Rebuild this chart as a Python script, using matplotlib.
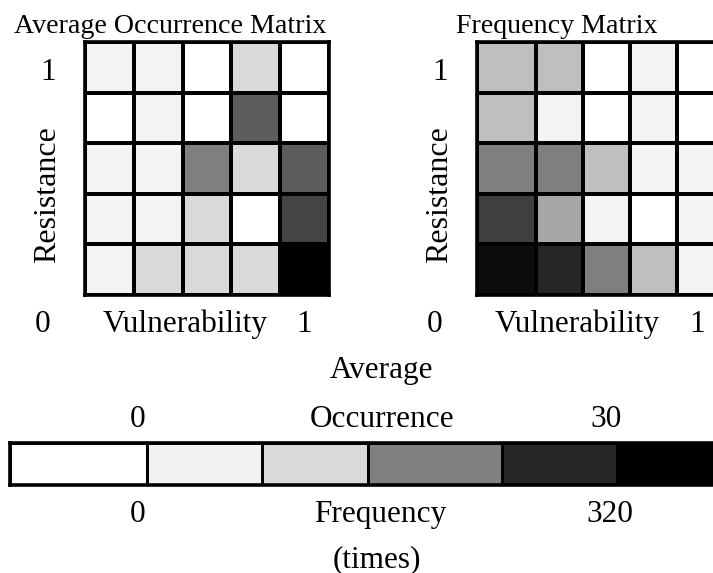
import numpy as np
import matplotlib
matplotlib.use("Agg")
import matplotlib.pyplot as plt
from matplotlib.colors import ListedColormap

# ---- data (rows listed top -> bottom, columns left -> right) ----
avg_occurrence = [
    [1.5, 1.5, 0.0, 4.5, 0.0],
    [0.0, 1.5, 0.0, 19.0, 0.0],
    [1.5, 1.5, 15.0, 4.5, 19.0],
    [1.5, 1.5, 4.5, 0.0, 22.0],
    [1.5, 4.5, 4.5, 4.5, 30.0],
]
frequency = [
    [80, 80, 0, 16, 0],
    [80, 16, 0, 16, 0],
    [160, 160, 80, 16, 16],
    [240, 112, 16, 0, 16],
    [304, 272, 160, 80, 16],
]
occ_range = [0, 30]
freq_range = [0, 320]
legend_grays = [1.0, 0.95, 0.85, 0.5, 0.15, 0.0]

W, H = 713, 573
plt.rcParams['font.family'] = ['Liberation Serif', 'DejaVu Serif']

fig = plt.figure(figsize=(W / 100, H / 100), dpi=100)


def px_axes(x0, y0, x1, y1):
    # axes from pixel box (origin top-left)
    return fig.add_axes([x0 / W, 1 - y1 / H, (x1 - x0) / W, (y1 - y0) / H])


def px_text(x, y, s, size=22.5, va='baseline', **kw):
    fig.text(x / W, 1 - y / H, s, fontsize=size, ha='center', va=va, **kw)


def draw_matrix(ax, values, vrange, xedges):
    vals = np.array(values, dtype=float)[::-1]
    yedges = np.arange(6)
    ax.pcolormesh(xedges, yedges, vals, cmap='gray_r', vmin=vrange[0], vmax=vrange[1],
                  edgecolors='black', linewidth=1.6)
    ax.set_xlim(xedges[0], xedges[-1])
    ax.set_ylim(0, 5)
    ax.set_xticks([])
    ax.set_yticks([])
    for sp in ax.spines.values():
        sp.set_linewidth(2.6)


# left matrix
ax1 = px_axes(85, 42, 329, 295)
draw_matrix(ax1, avg_occurrence, occ_range, np.arange(6))

# right matrix (first column wider, last column runs off the edge)
ax2 = px_axes(477, 42, 724, 295)
draw_matrix(ax2, frequency, freq_range, np.array([0, 59, 106, 153, 200, 247]))

# titles and axis labels
px_text(170, 33, 'Average Occurrence Matrix', size=20.2)
px_text(557, 33, 'Frequency Matrix', size=20.2)
for x0 in (48, 440):
    px_text(x0, 80, '1')
    px_text(x0 - 5, 332, '0')
    px_text(x0, 195, 'Resistance', size=23, va='center', rotation=90)
px_text(185, 332, 'Vulnerability')
px_text(304, 332, '1')
px_text(577, 332, 'Vulnerability')
px_text(697, 332, '1')

# shared legend bar
axc = px_axes(10, 443, 733, 485)
cb_edges = np.array([0, 137, 252, 358, 492, 607, 723])
axc.pcolormesh(cb_edges, [0, 1], np.arange(6).reshape(1, -1),
               cmap=ListedColormap([(g, g, g) for g in legend_grays]),
               vmin=-0.5, vmax=5.5, edgecolors='black', linewidth=1.8)
axc.set_xlim(0, 723)
axc.set_ylim(0, 1)
axc.set_xticks([])
axc.set_yticks([])
for sp in axc.spines.values():
    sp.set_linewidth(2.6)

px_text(381, 378, 'Average')
px_text(138, 427, str(occ_range[0]))
px_text(382, 427, 'Occurrence')
px_text(606, 427, str(occ_range[1]))
px_text(138, 522, str(freq_range[0]))
px_text(380, 522, 'Frequency')
px_text(610, 522, str(freq_range[1]))
px_text(377, 567, '(times)')

fig.savefig('out.png', dpi=100)
